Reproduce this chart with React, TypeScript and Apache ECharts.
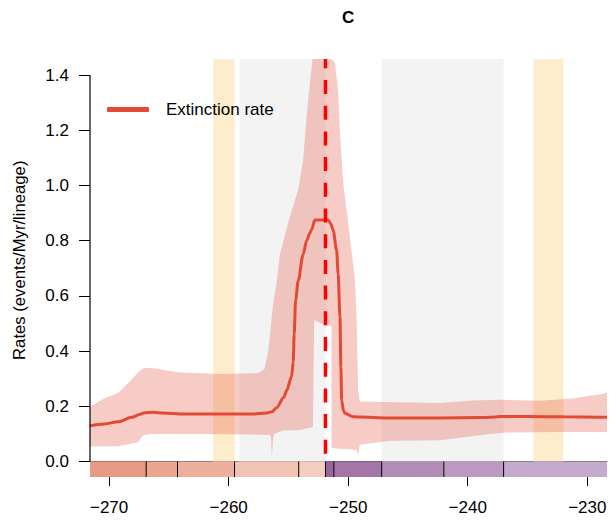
import React, { useEffect, useRef } from 'react';
import * as echarts from 'echarts';

const X_MIN = -271.6;
const X_MAX = -228.35;
const Y_MAX = 1.458;
const FONT = '"Liberation Sans", Arial, Helvetica, sans-serif';

const yTicks = [0, 0.2, 0.4, 0.6, 0.8, 1.0, 1.2, 1.4];
const xTicks = [-270, -260, -250, -240, -230];

// Extinction rate (posterior mean)
const lineX = [-271.6, -270.4, -269.25, -268.1, -267.4, -267.0, -266.3, -265.5, -263.7, -260.9, -258.0, -257.4, -256.8, -256.38, -255.99, -255.38, -255.15, -254.74, -254.6, -254.52, -254.4, -254.18, -253.77, -253.48, -253.2, -253.06, -252.79, -251.67, -251.45, -251.26, -250.97, -250.84, -250.69, -250.61, -250.55, -250.4, -250.28, -249.58, -247.0, -244.0, -242.33, -239.0, -238.14, -237.3, -235.0, -232.0, -228.35];
const lineY = [0.129, 0.136, 0.144, 0.160, 0.171, 0.177, 0.178, 0.176, 0.172, 0.172, 0.172, 0.174, 0.176, 0.18, 0.195, 0.233, 0.257, 0.307, 0.36, 0.46, 0.585, 0.655, 0.75, 0.80, 0.828, 0.84, 0.875, 0.875, 0.86, 0.838, 0.766, 0.68, 0.524, 0.343, 0.222, 0.185, 0.175, 0.162, 0.158, 0.158, 0.158, 0.159, 0.16, 0.163, 0.163, 0.162, 0.16];

// 95% HPD band, upper edge
const upX = [-271.6, -270.36, -269.25, -268.41, -267.57, -267.15, -266.6, -265.9, -264.23, -260.88, -257.53, -257.0, -256.69, -256.28, -256.0, -255.72, -254.88, -254.18, -253.77, -253.48, -253.2, -252.98, -252.8, -251.4, -251.11, -250.84, -250.69, -250.42, -250.0, -249.63, -249.44, -249.3, -249.17, -249.03, -246.0, -242.33, -239.56, -237.3, -233.97, -231.2, -228.7, -228.35];
const upY = [0.198, 0.23, 0.248, 0.284, 0.322, 0.338, 0.34, 0.335, 0.323, 0.317, 0.320, 0.335, 0.40, 0.57, 0.645, 0.75, 0.887, 0.984, 1.093, 1.251, 1.372, 1.46, 1.6, 1.6, 1.445, 1.34, 1.19, 1.009, 0.863, 0.73, 0.66, 0.524, 0.257, 0.217, 0.215, 0.212, 0.221, 0.224, 0.22, 0.228, 0.245, 0.25];

// 95% HPD band, lower edge
const loX = [-271.6, -269.25, -267.57, -267.15, -266.5, -262.0, -258.0, -256.55, -256.45, -256.38, -256.3, -256.2, -255.5, -254.0, -252.95, -252.85, -251.95, -251.4, -251.39, -250.69, -249.9, -249.3, -249.17, -249.03, -246.5, -242.3, -240.0, -238.14, -236.7, -232.0, -228.35];
const loY = [0.054, 0.055, 0.07, 0.095, 0.1, 0.1, 0.098, 0.096, 0.085, 0.015, 0.08, 0.1, 0.112, 0.114, 0.125, 0.513, 0.494, 0.49, 0.049, 0.046, 0.045, 0.04, 0.024, 0.061, 0.075, 0.077, 0.09, 0.1, 0.105, 0.107, 0.107];

// Highlighted intervals
const grayStarts = [-259.1, -247.2];
const grayEnds = [-251.902, -237.0];
const yellowStarts = [-261.3, -234.5];
const yellowEnds = [-259.5, -232.0];

const PTB = -251.902;

// Geological stages
const stageNames = ['Roadian', 'Wordian', 'Capitanian', 'Wuchiapingian', 'Changhsingian', 'Induan', 'Olenekian', 'Anisian', 'Ladinian', 'Carnian'];
const stageStarts = [-273.01, -266.9, -264.28, -259.51, -254.14, -251.902, -251.2, -247.2, -242.0, -237.0];
const stageEnds = [-266.9, -264.28, -259.51, -254.14, -251.902, -251.2, -247.2, -242.0, -237.0, -227.0];
const stageColors = ['#E89A85', '#EBA591', '#EEB09D', '#F0C3B3', '#F3CDC0', '#9B63A0', '#A574A9', '#B38DB7', '#BD99C1', '#C4AACD'];

const LINE_COLOR = '#E34A33';
const BAND_COLOR = 'rgba(228, 88, 72, 0.31)';

export default function App() {
  const ref = useRef<HTMLDivElement>(null);
  useEffect(() => {
    document.body.style.margin = '0';
    const chart = echarts.init(ref.current!, null, { renderer: 'svg' });
    const option: any = {
      animation: false,
      textStyle: { fontFamily: FONT },
      title: {
        text: 'C',
        left: 337,
        top: 4,
        textStyle: { fontFamily: FONT, fontSize: 17, fontWeight: 'bold', color: '#000' },
      },
      legend: {
        left: 102,
        top: 96,
        icon: 'roundRect',
        itemWidth: 42,
        itemHeight: 5,
        data: [{ name: 'Extinction rate', itemStyle: { color: LINE_COLOR } }],
        textStyle: { fontFamily: FONT, fontSize: 17, color: '#000', padding: [0, 0, 0, 12] },
      },
      grid: [
        { left: 90, top: 59, width: 517, height: 402.5 },
        { left: 90, top: 461.5, width: 517, height: 15.5 },
      ],
      xAxis: [
        {
          type: 'value', gridIndex: 0, min: X_MIN, max: X_MAX,
          axisLine: { show: true, lineStyle: { color: '#555', width: 1 } },
          axisTick: { show: false }, axisLabel: { show: false }, splitLine: { show: false },
        },
        {
          type: 'value', gridIndex: 1, min: X_MIN, max: X_MAX,
          axisLine: { show: false },
          axisTick: { show: true, customValues: xTicks, length: 9, lineStyle: { color: '#000', width: 1 } },
          axisLabel: {
            customValues: xTicks, margin: 22, fontSize: 17, color: '#000', fontFamily: FONT,
            formatter: (v: number) => (v < 0 ? '\u2212' : '') + Math.abs(v),
          },
          splitLine: { show: false },
        },
      ],
      yAxis: [
        {
          type: 'value', gridIndex: 0, min: 0, max: Y_MAX,
          axisLine: { show: false },
          axisTick: { show: true, customValues: yTicks, length: 11, lineStyle: { color: '#000', width: 1 } },
          axisLabel: {
            customValues: yTicks, margin: 21, fontSize: 17, color: '#000', fontFamily: FONT,
            formatter: (v: number) => v.toFixed(1),
          },
          splitLine: { show: false },
          name: 'Rates (events/Myr/lineage)',
          nameLocation: 'middle',
          nameGap: 62,
          nameTextStyle: { fontSize: 16.7, color: '#000', fontFamily: FONT },
        },
        { type: 'value', gridIndex: 1, min: 0, max: 1, show: false },
      ],
      series: [
        {
          type: 'custom',
          name: 'HPD',
          xAxisIndex: 0, yAxisIndex: 0,
          silent: true,
          clip: true,
          data: [[X_MIN, 0]],
          renderItem: (params: any, api: any) => {
            if (params.dataIndex !== 0) return null;
            const pts: number[][] = [];
            for (let i = 0; i < upX.length; i++) pts.push(api.coord([upX[i], Math.min(upY[i], Y_MAX)]));
            for (let i = loX.length - 1; i >= 0; i--) pts.push(api.coord([loX[i], loY[i]]));
            return { type: 'polygon', shape: { points: pts }, style: { fill: BAND_COLOR } };
          },
        },
        {
          type: 'line',
          name: 'Extinction rate',
          xAxisIndex: 0, yAxisIndex: 0,
          data: lineX.map((x, i) => [x, lineY[i]]),
          showSymbol: false,
          symbol: 'none',
          smooth: 0.3,
          smoothMonotone: 'x',
          itemStyle: { color: LINE_COLOR },
          lineStyle: { color: LINE_COLOR, width: 3 },
          markArea: {
            silent: true,
            label: { show: false },
            data: [
              ...grayStarts.map((s, i) => [{ xAxis: s, itemStyle: { color: '#F3F3F3' } }, { xAxis: grayEnds[i] }]),
              ...yellowStarts.map((s, i) => [{ xAxis: s, itemStyle: { color: '#FEEDCC' } }, { xAxis: yellowEnds[i] }]),
            ],
          },
        },
        {
          type: 'line',
          name: 'PTB',
          xAxisIndex: 0, yAxisIndex: 0,
          data: [[PTB, 0], [PTB, Y_MAX]],
          symbol: 'none',
          silent: true,
          lineStyle: { color: '#FF0000', width: 3.5, type: [14, 11.7], dashOffset: 18 },
        },
        {
          type: 'line',
          name: 'yaxisline',
          xAxisIndex: 0, yAxisIndex: 0,
          data: [[X_MIN, 0], [X_MIN, 1.4]],
          symbol: 'none',
          silent: true,
          clip: false,
          lineStyle: { color: '#000', width: 1.2 },
        },
        {
          type: 'custom',
          name: 'stages',
          xAxisIndex: 1, yAxisIndex: 1,
          silent: true,
          data: stageStarts.map((s, i) => [s, 0.5, stageEnds[i]]),
          encode: { x: [0, 2], y: 1 },
          renderItem: (params: any, api: any) => {
            const i = params.dataIndex;
            const s = Math.max(stageStarts[i], X_MIN);
            const e = Math.min(stageEnds[i], X_MAX);
            if (e <= s) return null;
            const p0 = api.coord([s, 0]);
            const p1 = api.coord([e, 1]);
            const children: any[] = [
              {
                type: 'rect',
                shape: { x: p0[0], y: p1[1], width: p1[0] - p0[0], height: p0[1] - p1[1] },
                style: { fill: stageColors[i] },
              },
            ];
            if (stageStarts[i] > X_MIN) {
              children.push({
                type: 'line',
                shape: { x1: p0[0], y1: p1[1], x2: p0[0], y2: p0[1] },
                style: { stroke: '#000', lineWidth: 1 },
              });
            }
            return { type: 'group', children };
          },
        },
      ],
    };
    chart.setOption(option);
    return () => chart.dispose();
  }, []);
  return <div ref={ref} style={{ width: 610, height: 521 }} />;
}
